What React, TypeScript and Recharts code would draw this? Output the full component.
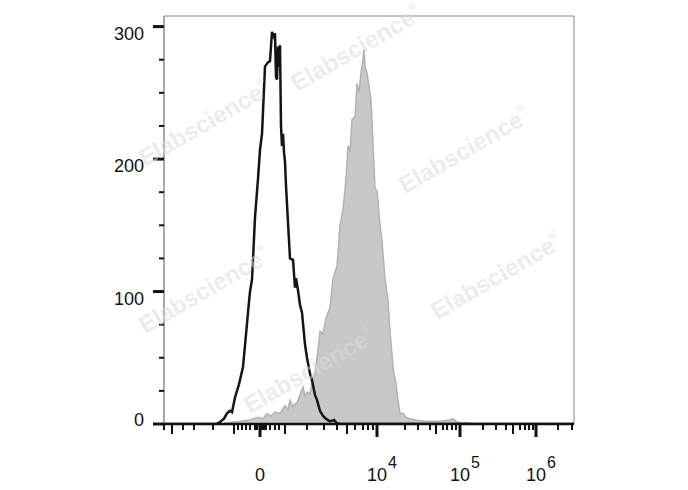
import React from 'react';
import { ComposedChart, Area, Line, XAxis, YAxis, ReferenceLine } from 'recharts';

// x values are display channels of the biexponential axis (0..410)
const blackX = [0, 52, 56, 60, 63, 66, 68, 71, 75, 79, 84, 86, 88, 89, 91, 94, 96, 98, 101, 104, 106, 108, 110, 111, 112, 113, 114, 115, 116, 117, 118, 119, 120, 121, 122, 124, 126, 129, 131, 132, 134, 136, 138, 141, 143, 146, 148, 151, 153, 156, 159, 162, 166, 170, 173, 176, 410];
const blackY = [0, 0, 1.5, 4, 8, 10, 9, 20, 30, 43, 84, 100, 109, 124, 156, 185, 207, 219, 270, 273, 274, 296, 292, 295, 262, 260, 285, 270, 286, 225, 210, 219, 205, 198, 180, 152, 125, 124, 103, 110, 101, 90, 84, 60, 50, 38, 33, 22, 18, 10, 6, 4, 2, 3, 0.5, 0, 0];

const grayX = [0, 58, 63, 69, 76, 86, 94, 99, 103, 107, 111, 116, 121, 124, 126, 129, 131, 133, 136, 139, 141, 143, 146, 149, 151, 154, 156, 159, 162, 166, 169, 173, 176, 179, 182, 184, 186, 188, 191, 193, 195, 197, 199, 200, 201, 203, 205, 207, 209, 211, 213, 216, 218, 221, 224, 226, 229, 232, 234, 236, 239, 242, 246, 251, 256, 261, 266, 276, 286, 289, 292, 296, 303, 311, 410];
const grayY = [0, 0, 0.8, 1.5, 2, 3, 5, 4, 8, 6, 9, 8, 14, 11, 18, 13, 15, 16, 22, 28, 21, 24, 23, 35, 38, 56, 70, 68, 80, 88, 110, 119, 150, 162, 185, 210, 205, 230, 232, 257, 250, 265, 275, 283, 270, 265, 255, 245, 212, 178, 176, 150, 138, 110, 93, 70, 43, 30, 18, 8, 8, 5, 4, 3, 2.5, 2, 2, 2, 3, 4, 2, 1, 1, 0, 0];

const xTicks = [0, 8, 19, 30, 49, 70, 74, 78, 82, 86, 91, 93, 96, 98, 100, 102, 106, 111, 115, 121, 143, 160, 173, 183, 191, 199, 204, 209, 213, 241, 254, 266, 272, 279, 283, 288, 292, 296, 319, 332, 342, 349, 356, 361, 365, 369, 372, 394, 408];
const xMajor = [96, 213, 296, 372];
const xMedium = [8, 70, 121, 183, 272, 349];
const xLabelBase = ['0', '10', '10', '10'];
const xLabelExp = ['', '4', '5', '6'];

const yTicks = [0, 25, 50, 75, 100, 125, 150, 175, 200, 225, 250, 275, 300];
const yMajor = [0, 100, 200, 300];

const watermarks = [
  [357, 50], [205, 125], [465, 152], [205, 292], [497, 278], [310, 372],
];

const table = (() => {
  const m = new Map<number, any>();
  blackX.forEach((x, i) => { const r = m.get(x) || { x }; r.black = blackY[i]; m.set(x, r); });
  grayX.forEach((x, i) => { const r = m.get(x) || { x }; r.gray = grayY[i]; m.set(x, r); });
  return Array.from(m.values()).sort((a, b) => a.x - b.x);
})();

const FONT = '"Liberation Sans", Arial, sans-serif';

const XTick = (props: any) => {
  const { x, y, payload } = props;
  const v = payload.value;
  const mi = xMajor.indexOf(v);
  const len = mi >= 0 ? 13 : xMedium.includes(v) ? 10 : 6;
  const w = mi >= 0 ? 3 : 2;
  return (
    <g>
      <line x1={x} x2={x} y1={y + 1} y2={y + len} stroke="#111" strokeWidth={w} />
      {mi >= 0 && (
        <text x={x} y={y + 57} fontFamily={FONT} fontSize={18} fill="#111" textAnchor="middle">
          {xLabelBase[mi]}
        </text>
      )}
      {mi >= 0 && xLabelExp[mi] && (
        <text x={x + 11} y={y + 44} fontFamily={FONT} fontSize={16} fill="#111" textAnchor="start">
          {xLabelExp[mi]}
        </text>
      )}
    </g>
  );
};

const YTick = (props: any) => {
  const { x, y, payload } = props;
  const v = payload.value;
  const major = yMajor.includes(v);
  const dy = v === 0 ? 2 : 13;
  return (
    <g>
      <line x1={x - (major ? 11 : 5)} x2={x} y1={y} y2={y} stroke="#111" strokeWidth={major ? 3 : 2} />
      {major && (
        <text x={x - 20} y={y + dy} fontFamily={FONT} fontSize={18} fill="#111" textAnchor="end">
          {String(v)}
        </text>
      )}
    </g>
  );
};

export default function App() {
  return (
    <div style={{ position: 'absolute', left: 0, top: 0, width: 688, height: 490, background: '#fff' }}>
      <ComposedChart width={688} height={490} data={table} margin={{ top: 16, right: 114, bottom: 0, left: 104 }}>
        <XAxis
          dataKey="x"
          type="number"
          domain={[0, 410]}
          ticks={xTicks}
          interval={0}
          tickSize={0}
          tickMargin={0}
          tickLine={false}
          height={66}
          axisLine={{ stroke: '#111', strokeWidth: 2.5 }}
          tick={<XTick />}
          allowDataOverflow
        />
        <YAxis
          type="number"
          domain={[0, 308]}
          ticks={yTicks}
          interval={0}
          tickSize={0}
          tickMargin={0}
          tickLine={false}
          width={60}
          axisLine={{ stroke: '#555', strokeWidth: 1 }}
          tick={<YTick />}
          allowDataOverflow
        />
        <ReferenceLine y={308} stroke="#888" strokeWidth={1} />
        <ReferenceLine x={410} stroke="#888" strokeWidth={1} />
        <Area
          dataKey="gray"
          type="linear"
          connectNulls
          fill="#c8c8c8"
          fillOpacity={1}
          stroke="#b2b2b2"
          strokeWidth={1.5}
          dot={false}
          isAnimationActive={false}
        />
        <Line
          dataKey="black"
          type="linear"
          connectNulls
          stroke="#141414"
          strokeWidth={2.5}
          dot={false}
          isAnimationActive={false}
        />
      </ComposedChart>
      <svg width={688} height={490} style={{ position: 'absolute', left: 0, top: 0, pointerEvents: 'none' }}>
        {watermarks.map(([cx, cy], i) => (
          <text
            key={i}
            x={cx}
            y={cy}
            transform={`rotate(-30 ${cx} ${cy})`}
            textAnchor="middle"
            dominantBaseline="middle"
            fontFamily={FONT}
            fontWeight="bold"
            fontSize={24}
            fill="#dcdcdc"
            fillOpacity={0.55}
          >
            Elabscience<tspan fontSize={10} dy={-10}>®</tspan>
          </text>
        ))}
      </svg>
    </div>
  );
}
